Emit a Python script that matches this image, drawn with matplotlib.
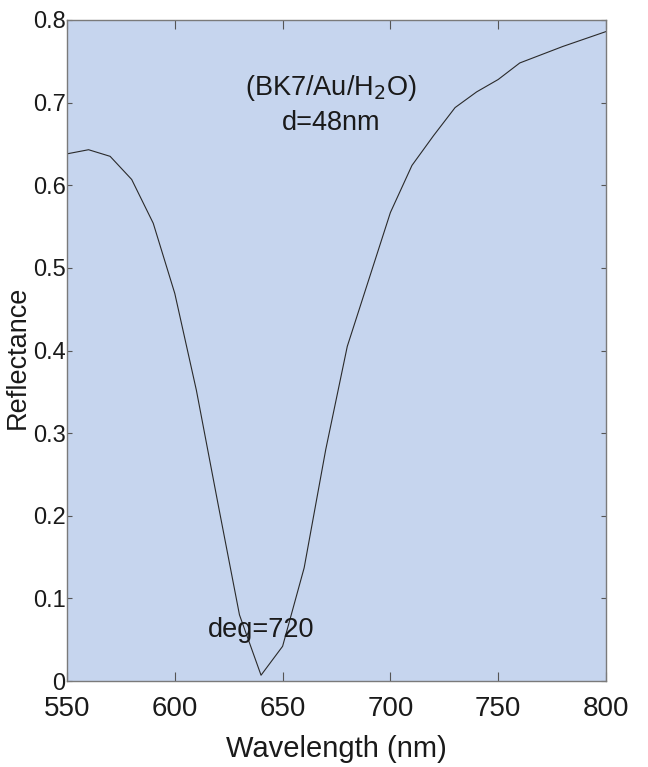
import matplotlib
matplotlib.use('Agg')
import matplotlib.pyplot as plt

# reflectance curve
wavelength = [550, 560, 570, 580, 590, 600, 610, 620, 630, 640, 650, 660, 670, 680,
              690, 700, 710, 720, 730, 740, 750, 760, 770, 780, 790, 800]
reflectance = [0.638, 0.643, 0.635, 0.607, 0.554, 0.469, 0.352, 0.215, 0.080, 0.007,
               0.042, 0.137, 0.280, 0.405, 0.486, 0.567, 0.624, 0.660, 0.694, 0.713,
               0.728, 0.748, 0.758, 0.768, 0.777, 0.786]

x_ticks = [550, 600, 650, 700, 750, 800]
y_ticks = [0, 0.1, 0.2, 0.3, 0.4, 0.5, 0.6, 0.7, 0.8]
y_tick_labels = ['0', '0.1', '0.2', '0.3', '0.4', '0.5', '0.6', '0.7', '0.8']

plt.rcParams['font.family'] = ['Liberation Sans', 'DejaVu Sans']

fig = plt.figure(figsize=(6.48, 7.67), dpi=100)
ax = fig.add_axes([67 / 648, 1 - 681 / 767, (606 - 67) / 648, (681 - 20) / 767])
ax.set_facecolor('#c6d5ee')

ax.plot(wavelength, reflectance, color='#2a2a2a', linewidth=0.8)

ax.set_xlim(550, 800)
ax.set_ylim(0, 0.8)
ax.set_xticks(x_ticks)
ax.set_yticks(y_ticks)
ax.set_yticklabels(y_tick_labels)
ax.tick_params(axis='both', direction='in', colors='#1a1a1a',
               top=True, right=True, width=0.8)
ax.tick_params(axis='x', length=6.5, pad=11, labelsize=20, color='#555555')
ax.tick_params(axis='y', length=3.5, pad=1, labelsize=17, color='#555555')
for s in ax.spines.values():
    s.set_color('#7a7a7a')
    s.set_linewidth(1.0)

txt = dict(ha='center', va='center', fontsize=19.5, color='#1a1a1a')
ax.text(672.5, 0.718, '(BK7/Au/H$_2$O)', **txt)
ax.text(672.5, 0.675, 'd=48nm', **txt)
ax.text(640.0, 0.062, 'deg=720', **txt)

ax.set_xlabel('Wavelength (nm)', fontsize=21, color='#1a1a1a', labelpad=9)
ax.set_ylabel('Reflectance', fontsize=19.5, color='#1a1a1a')
ax.yaxis.set_label_coords(-0.068, 0.49)

fig.savefig('out.png', dpi=100, facecolor='white')
